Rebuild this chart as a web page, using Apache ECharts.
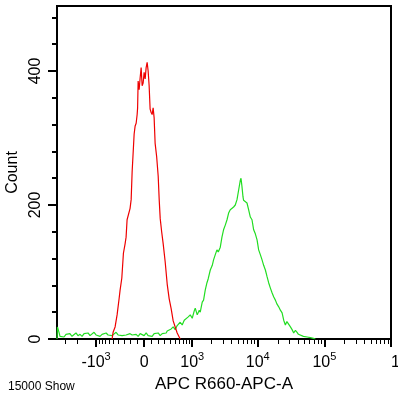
<!DOCTYPE html>
<html>
<head>
<meta charset="utf-8">
<script src="https://cdn.jsdelivr.net/npm/echarts@6/dist/echarts.min.js"></script>
<style>
html,body{margin:0;padding:0;background:#fff;}
#chart{width:398px;height:394px;}
</style>
</head>
<body>
<div id="chart"></div>
<script>
// x positions are in display channels (biexponential display, 100 channels per decade, 0 = zero intensity)
const redChannel = [-48.1,-46.6,-43.6,-40.6,-37.6,-36.1,-33.5,-31.1,-28.6,-27.1,-25.6,-23.3,-21.1,-19.5,-18.0,-16.5,-15.0,-13.5,-12.0,-10.5,-9.8,-9.0,-7.5,-6.0,-4.5,-3.0,-1.5,0,1.5,3.0,4.5,6.0,7.5,9.0,10.5,12.0,13.5,15.0,16.5,18.8,21.1,22.6,24.1,26.3,28.6,31.6,34.6,37.6,40.6,43.6,46.6,49.6,52.6,54.1];
const redCount   = [0,10,18,36,60,73,91,128,142,152,178,180,195,208,250,278,306,318,322,335,345,385,372,390,405,378,382,398,388,405,413,400,378,343,338,335,345,330,292,272,243,208,180,160,142,115,82,60,45,27,18,9,3,0];
const greenChannel = [-130.8,-130.1,-127.8,-126.3,-123.3,-120.3,-117.3,-114.3,-111.4,-108.3,-105.3,-102.3,-99.3,-96.2,-93.2,-90.2,-87.2,-84.2,-81.2,-78.2,-75.2,-72.2,-69.2,-66.2,-63.2,-60.2,-57.1,-54.1,-51.1,-48.1,-45.1,-42.1,-39.1,-36.1,-33.1,-30.1,-27.1,-24.1,-21.1,-18.0,-15.0,-12.0,-9.0,-6.0,-3.0,0,3.0,6.0,9.0,12.0,15.0,18.0,21.1,24.1,27.1,30.1,33.1,34.6,37.6,40.6,43.6,46.6,49.6,52.6,54.1,57.1,60.2,63.2,66.2,69.2,72.2,75.2,76.7,79.7,82.7,84.2,87.2,89.2,91.7,94.3,96.2,99.3,102.3,104.2,106.8,109.3,111.3,114.3,116.8,119.2,121.8,124.4,126.8,129.3,131.9,134.3,136.8,139.4,141.8,144.4,145.4,146.9,148.4,149.3,151.9,154.4,156.8,159.4,161.9,164.4,166.9,169.5,171.9,174.4,177.0,179.4,182.0,184.5,186.9,189.5,192.0,194.4,197.0,199.5,202.0,204.5,207.1,209.5,212.0,214.3,217.0,219.6,222.1,224.5,227.1,229.6,231.6,234.6,239.1,244.7,249.6,252.2,254.1,257.1];
const greenCount   = [0,18,10,4,6,3,7,5,8,4,6,9,5,7,4,8,6,9,5,7,10,6,8,4,7,5,9,6,8,5,7,10,6,8,5,7,6,4,8,6,5,7,4,8,6,5,9,5,7,4,8,6,9,5,8,10,9,12,10,15,18,14,20,22,25,21,28,26,33,36,31,42,46,36,43,40,55,58,73,84,90,103,110,118,126,133,130,137,152,163,170,178,188,193,192,197,200,208,222,237,240,227,212,207,205,203,193,182,178,163,157,148,133,126,118,110,103,93,84,76,69,63,58,52,48,43,39,28,21,26,24,18,14,9,13,10,7,6,4,3,2,3,1,0];

const majorTickIntensity = [-1000, 0, 1000, 1e4, 1e5, 1e6];
const majorTickLabels = [['-10','3'], ['0',''], ['10','3'], ['10','4'], ['10','5'], ['10','6']];
const yLabelValues = [0, 200, 400];
const yMinorValues = [0,40,80,120,160,200,240,280,320,360,400,440,480];
const xTitle = 'APC R660-APC-A';
const yTitle = 'Count';
const footer = '15000 Show';

const W = 394;
function toDisplay(v){ return 100 * Math.asinh(v / W) / Math.LN10; }
const xMin = -130.8;
const xMax = toDisplay(1e6);
const majorVals = majorTickIntensity.map(toDisplay);
majorVals[majorVals.length-1] = xMax;
const minorIntensity = [-3000,-2000];
for (let k=-9;k<=9;k++){ if(k!==0) minorIntensity.push(k*100); }
for (let d=1e3; d<1e6; d*=10){ for (let m=2;m<=9;m++) minorIntensity.push(m*d); }
const minorVals = minorIntensity.map(toDisplay);

function xLabel(val){
  for (let i=0;i<majorVals.length;i++){
    if (Math.abs(majorVals[i]-val) < 1e-6){
      const p = majorTickLabels[i];
      return p[1] ? '{n|' + p[0] + '}{s|' + p[1] + '}' : '{n|' + p[0] + '}';
    }
  }
  return '';
}

const FONT = "'Liberation Sans', Arial, sans-serif";
const chart = echarts.init(document.getElementById('chart'), null, {renderer:'canvas'});
chart.setOption({
  animation: false,
  backgroundColor: '#fff',
  title: {
    text: footer, left: 3, top: 376,
    textStyle: {fontFamily: FONT, fontSize: 12, fontWeight: 'normal', color: '#000'}
  },
  grid: {left: 57, right: 7, top: 6, bottom: 55, show: true, borderColor: '#000', borderWidth: 2,
    backgroundColor: 'transparent', containLabel: false, outerBoundsMode: 'none'},
  xAxis: [{
    type: 'value', min: xMin, max: xMax, position: 'bottom',
    name: xTitle, nameLocation: 'middle', nameGap: 35,
    nameTextStyle: {fontFamily: FONT, fontSize: 17, color: '#000'},
    axisLine: {show: true, onZero: false, lineStyle: {color: '#000', width: 2}},
    axisTick: {show: true, customValues: majorVals, length: 8, lineStyle: {color: '#000', width: 2}},
    axisLabel: {show: true, customValues: majorVals, formatter: xLabel, margin: 12, alignMaxLabel: 'left',
      hideOverlap: false,
      rich: {
        n: {fontFamily: FONT, fontSize: 16, color: '#000', lineHeight: 20, verticalAlign: 'bottom'},
        s: {fontFamily: FONT, fontSize: 11, color: '#000', lineHeight: 12, verticalAlign: 'top'}
      }},
    splitLine: {show: false}
  }, {
    type: 'value', min: xMin, max: xMax, position: 'bottom', offset: 0,
    axisLine: {show: false, onZero: false},
    axisTick: {show: true, customValues: minorVals, length: 5, lineStyle: {color: '#000', width: 1}},
    axisLabel: {show: false},
    splitLine: {show: false}
  }],
  yAxis: [{
    type: 'value', min: 0, max: 497, position: 'left',
    name: yTitle, nameLocation: 'middle', nameGap: 34,
    nameTextStyle: {fontFamily: FONT, fontSize: 16, color: '#000'},
    axisLine: {show: true, onZero: false, lineStyle: {color: '#000', width: 2}},
    axisTick: {show: true, customValues: yMinorValues, length: 5, lineStyle: {color: '#000', width: 2}},
    axisLabel: {show: true, customValues: yLabelValues, rotate: 90, margin: 13,
      fontFamily: FONT, fontSize: 16, color: '#000'},
    splitLine: {show: false}
  }, {
    type: 'value', min: 0, max: 497, position: 'left',
    axisLine: {show: false, onZero: false},
    axisTick: {show: true, customValues: yLabelValues, length: 9, lineStyle: {color: '#000', width: 2}},
    axisLabel: {show: false},
    splitLine: {show: false}
  }],
  series: [{
    type: 'line', xAxisIndex: 0, yAxisIndex: 0, symbol: 'none',
    data: greenChannel.map((c,i)=>[c, greenCount[i]]),
    lineStyle: {color: '#22dd22', width: 1.2}
  }, {
    type: 'line', xAxisIndex: 0, yAxisIndex: 0, symbol: 'none',
    data: redChannel.map((c,i)=>[c, redCount[i]]),
    lineStyle: {color: '#ee0000', width: 1.2}
  }]
});
</script>
</body>
</html>
